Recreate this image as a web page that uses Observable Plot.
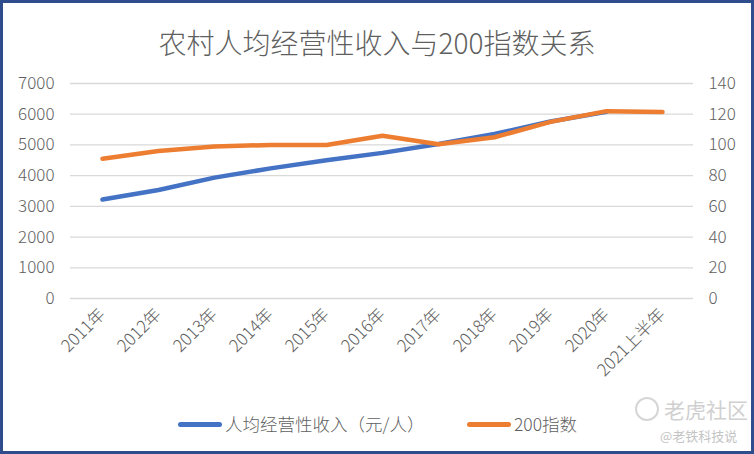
<!DOCTYPE html>
<html>
<head>
<meta charset="utf-8">
<script src="https://cdn.jsdelivr.net/npm/d3@7"></script>
<script src="https://cdn.jsdelivr.net/npm/@observablehq/plot@0.6"></script>
<style>
  body { margin: 0; background: #fff; }
  #wrap { position: relative; width: 754px; height: 454px; overflow: hidden; background: #fff;
          font-family: "Noto Sans CJK SC", "Noto Sans", sans-serif; color: #595959; }
  #chart { position: absolute; left: 0; top: 0; }
  #title { position: absolute; left: 0; width: 754px; top: 22px; text-align: center;
           font-size: 28px; line-height: 40px; color: #5f5f5f; font-weight: 300; }
  #legend { position: absolute; top: 410px; left: 0; width: 754px; height: 28px; }
  .lg { position: absolute; top: 0; display: flex; align-items: center; font-size: 17.5px; line-height: 28px; color: #5f5f5f; font-weight: 300; }
  .sw { width: 44px; height: 5px; border-radius: 3px; margin-right: 3px; }
  #frame { position: absolute; inset: 0; border: 3px solid #2f4c8c; pointer-events: none; }
  .wm { position: absolute; color: #d0d0d0; }
</style>
</head>
<body>
<div id="wrap">
  <div id="chart"></div>
  <div id="title">农村人均经营性收入与200指数关系</div>
  <div id="legend"></div>
  <div class="wm" style="left:635px;top:397px;width:20px;height:20px;border:2px solid #d6d6d6;border-radius:50%;"></div>
  <div class="wm" style="left:664px;top:394px;font-size:21px;line-height:30px;">老虎社区</div>
  <div class="wm" style="left:660px;top:426px;font-size:13px;line-height:20px;color:#c4c4c4;">@老铁科技说</div>
  <div id="frame"></div>
</div>
<script>
const categories = ["2011年","2012年","2013年","2014年","2015年","2016年","2017年","2018年","2019年","2020年","2021上半年"];
const incomeYears = ["2011年","2012年","2013年","2014年","2015年","2016年","2017年","2018年","2019年","2020年"];
const income = [3222, 3533, 3935, 4237, 4504, 4741, 5028, 5358, 5762, 6077];
const index200 = [91, 96, 99, 100, 100, 106, 100.5, 105, 115, 122, 121.5];
const leftTicks = [0, 1000, 2000, 3000, 4000, 5000, 6000, 7000];
const seriesNames = ["人均经营性收入（元/人）", "200指数"];
const colors = ["#4472c4", "#ed7d31"];
const ratio = 50; // right axis 140 ↔ left axis 7000

const incomeData = incomeYears.map((c, i) => ({cat: c, v: income[i]}));
const indexData = categories.map((c, i) => ({cat: c, v: index200[i] * ratio}));

const chart = Plot.plot({
  width: 754,
  height: 454,
  marginTop: 83,
  marginBottom: 156,
  marginLeft: 70,
  marginRight: 61,
  style: {fontFamily: '"Noto Sans CJK SC", "Noto Sans", sans-serif', color: "#595959", background: "transparent"},
  x: {type: "point", domain: categories, padding: 0.5},
  y: {domain: [0, 7000]},
  marks: [
    Plot.gridY(leftTicks, {stroke: "#d9d9d9", strokeOpacity: 1, strokeWidth: 1.3}),
    Plot.axisY(leftTicks, {anchor: "left", label: null, tickSize: 0, tickPadding: 16, fontSize: 17, fontWeight: 300, fill: "#5f5f5f", tickFormat: d => String(d)}),
    Plot.axisY(leftTicks, {anchor: "right", label: null, tickSize: 0, tickPadding: 15, fontSize: 17, fontWeight: 300, fill: "#5f5f5f", tickFormat: d => String(d / ratio)}),
    Plot.axisX({tickSize: 0, tickPadding: 13, tickRotate: -45, fontSize: 17, fontWeight: 300, fill: "#5f5f5f", label: null}),
    Plot.line(incomeData, {x: "cat", y: "v", stroke: colors[0], strokeWidth: 4.5, strokeLinecap: "round", strokeLinejoin: "round"}),
    Plot.line(indexData, {x: "cat", y: "v", stroke: colors[1], strokeWidth: 4.5, strokeLinecap: "round", strokeLinejoin: "round"})
  ]
});
document.getElementById("chart").appendChild(chart);

const legend = document.getElementById("legend");
const lefts = [178, 467];
seriesNames.forEach((n, i) => {
  const d = document.createElement("div");
  d.className = "lg";
  d.style.left = lefts[i] + "px";
  d.innerHTML = `<span class="sw" style="background:${colors[i]}"></span><span>${n}</span>`;
  legend.appendChild(d);
});
</script>
</body>
</html>
